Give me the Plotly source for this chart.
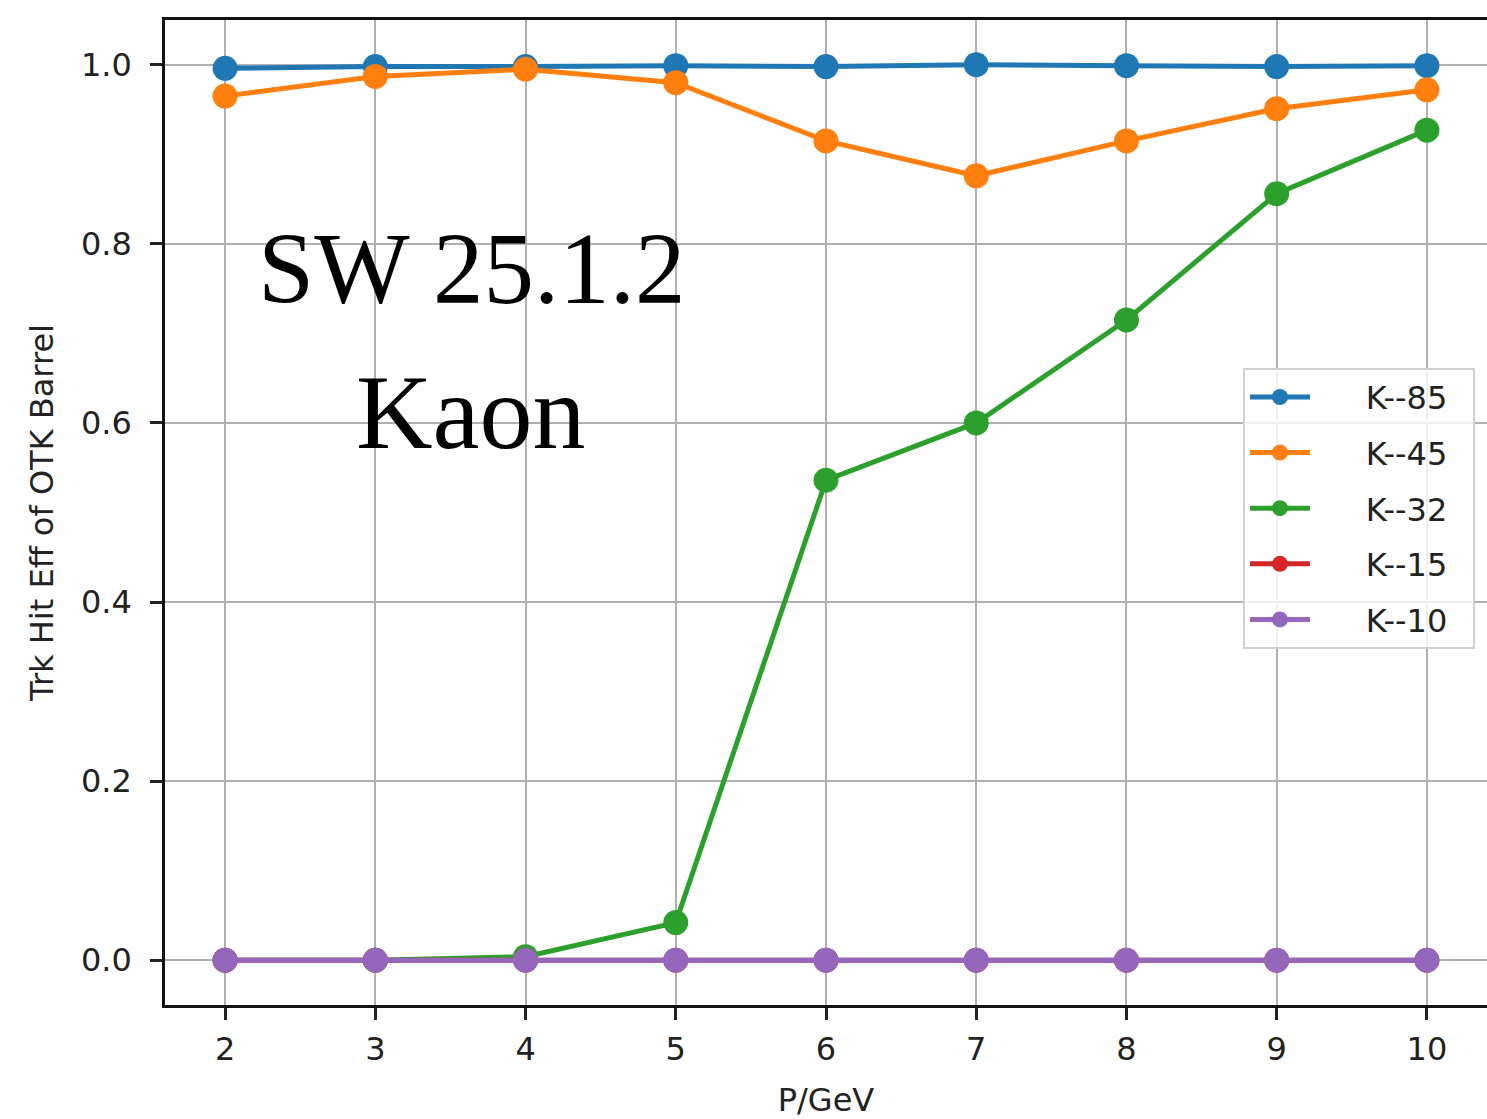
import plotly.graph_objects as go

# Momentum points (GeV)
momentum = [2, 3, 4, 5, 6, 7, 8, 9, 10]

# Track hit efficiency of the OTK barrel for each kaon sample
eff_k85 = [0.996, 0.998, 0.998, 0.999, 0.998, 1.000, 0.999, 0.998, 0.999]
eff_k45 = [0.965, 0.987, 0.995, 0.980, 0.915, 0.876, 0.915, 0.951, 0.972]
eff_k32 = [0.000, 0.000, 0.004, 0.042, 0.536, 0.600, 0.715, 0.856, 0.927]
eff_k15 = [0.0, 0.0, 0.0, 0.0, 0.0, 0.0, 0.0, 0.0, 0.0]
eff_k10 = [0.0, 0.0, 0.0, 0.0, 0.0, 0.0, 0.0, 0.0, 0.0]

series_names = ["K--85", "K--45", "K--32", "K--15", "K--10"]
series_values = [eff_k85, eff_k45, eff_k32, eff_k15, eff_k10]
series_colors = ["#1f77b4", "#ff7f0e", "#2ca02c", "#d62728", "#9467bd"]

y_ticks = [0.0, 0.2, 0.4, 0.6, 0.8, 1.0]

# non-breaking spaces widen the gap between legend symbol and label
pad = "\u00a0" * 5

fig = go.Figure()
for i, (name, vals, col) in enumerate(zip(series_names, series_values, series_colors)):
    fig.add_trace(go.Scatter(
        x=momentum, y=vals, name=pad + name + "\u00a0\u00a0", mode="lines+markers",
        line=dict(color=col, width=5),
        marker=dict(color=col, size=25),
        legendgroup=f"g{i}",
    ))

axis_font = dict(family="DejaVu Sans", size=32, color="#222222")

fig.update_xaxes(
    range=[1.6, 10.4], tickvals=momentum, ticks="outside", ticklen=12, tickwidth=2.5,
    tickcolor="#222222", showline=True, linecolor="#111111", linewidth=2.6, mirror=True,
    showgrid=True, gridcolor="#b0b0b0", gridwidth=2.4, zeroline=False,
    tickfont=axis_font, ticklabelstandoff=2,
    title=dict(text="P/GeV", font=axis_font, standoff=26),
)
fig.update_yaxes(
    range=[-0.05, 1.05], tickvals=y_ticks, tickformat=".1f", ticks="outside", ticklen=12,
    tickwidth=2.5, tickcolor="#222222", showline=True, linecolor="#111111", linewidth=2.6,
    showgrid=True, gridcolor="#b0b0b0", gridwidth=2.4, zeroline=False,
    tickfont=axis_font, ticklabelstandoff=12,
    title=dict(text="Trk Hit Eff of OTK Barrel", font=axis_font, standoff=18),
)

label_font = dict(family="Liberation Serif", size=101, color="#000000")
fig.add_annotation(x=3.64, y=0.772, xref="x", yref="y", text="SW 25.1.2",
                   showarrow=False, font=label_font, xanchor="center", yanchor="middle")
fig.add_annotation(x=3.64, y=0.612, xref="x", yref="y", text="Kaon",
                   showarrow=False, font=dict(family="Liberation Serif", size=106, color="#000000"),
                   xanchor="center", yanchor="middle")

fig.update_layout(
    width=1487, height=1119,
    margin=dict(l=165, r=0, t=20, b=114),
    plot_bgcolor="white", paper_bgcolor="white",
    font=axis_font,
    legend=dict(
        x=0.8154, y=0.647, xanchor="left", yanchor="top",
        bgcolor="rgba(255,255,255,0.8)", bordercolor="#d0d0d0", borderwidth=2,
        font=dict(family="DejaVu Sans", size=32, color="#222222"),
        tracegroupgap=11, itemwidth=60,
    ),
)

fig.write_html("out.html")
